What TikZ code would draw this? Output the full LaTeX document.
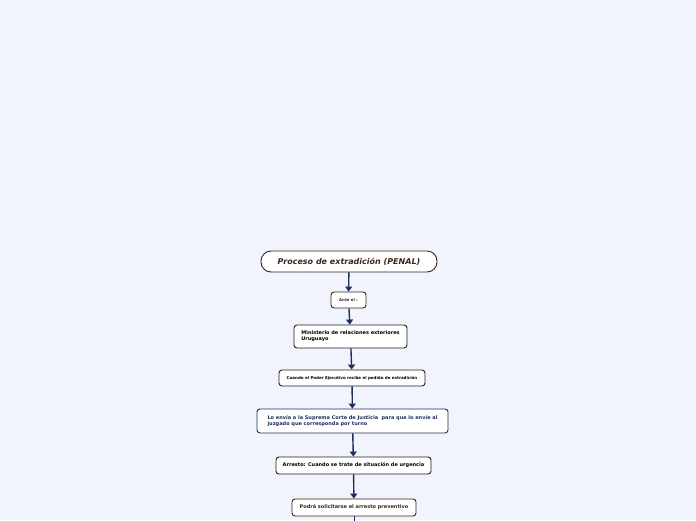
\documentclass[tikz,border=0pt]{standalone}
\usepackage{fontspec}
\setmainfont{DejaVu Sans}
\usetikzlibrary{arrows.meta, positioning}
\definecolor{exbg}{HTML}{F1F4FC}
\definecolor{exnavy}{HTML}{1C2F5E}
\definecolor{exbrown}{HTML}{3E2418}
\definecolor{exdark}{HTML}{202020}

\begin{document}
\begin{tikzpicture}[
  x=1pt, y=-1pt,
  box/.style={draw, rounded corners=3pt, fill=white, line width=0.9pt, inner sep=0pt, align=left, font=\bfseries\fontsize{5}{6}\selectfont},
  arr/.style={-{Triangle[length=5pt, width=7pt]}, line width=1.4pt, draw=exnavy},
]
  \fill[exbg] (0,0) rectangle (696,520);
  \clip (0,0) rectangle (696,520);
  \useasboundingbox (0,0) rectangle (696,520);

  \node[box, draw=exbrown, text=exbrown, rounded corners=10pt, minimum width=176pt, minimum height=21pt, align=center, font=\bfseries\itshape\fontsize{8}{9}\selectfont] (title) at (349,261.5) {Proceso de extradición (PENAL)};
  \node[box, draw=exbrown, text=exbrown, minimum width=35pt, minimum height=16pt, align=center, font=\bfseries\fontsize{3.9}{4.5}\selectfont] (ante) at (348.5,300) {Ante el :};
  \node[box, draw=exdark, text=black, minimum width=113pt, minimum height=23pt] (minis) at (350.5,336.5) {Ministerio de relaciones exteriores\\Uruguayo};
  \node[box, draw=exdark, text=black, minimum width=146pt, minimum height=16pt, align=center, font=\bfseries\fontsize{4}{4.8}\selectfont] (cuando) at (352,378) {Cuando el Poder Ejecutivo recibe el pedido de extradición};
  \node[box, draw=exnavy, text=exnavy, minimum width=191pt, minimum height=24pt] (envia) at (352.5,421) {Lo envía a la Suprema Corte de Justicia~ para que lo envíe al\\juzgado que corresponda por turno};
  \node[box, draw=exdark, text=black, minimum width=155pt, minimum height=17pt, align=center] (arresto) at (353.5,465.5) {Arresto: Cuando se trate de situación de urgencia};
  \node[box, draw=exbrown, text=exbrown, minimum width=124pt, minimum height=17pt, align=center] (podra) at (354,507.5) {Podrá solicitarse el arresto preventivo};
  \coordinate (next) at (354,535);

  \draw[arr] (title) -- (ante);
  \draw[arr] (ante) -- (minis);
  \draw[arr] (minis) -- (cuando);
  \draw[arr] (cuando) -- (envia);
  \draw[arr] (envia) -- (arresto);
  \draw[arr] (arresto) -- (podra);
  \draw[exnavy, line width=0.8pt] (podra) -- (next);
\end{tikzpicture}
\end{document}
